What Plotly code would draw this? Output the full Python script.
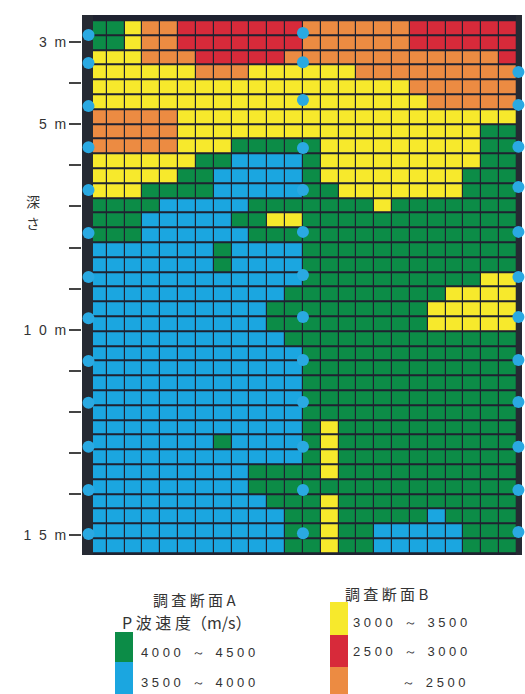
import plotly.graph_objects as go

# P-wave velocity classes (m/s) for survey sections A and B
class_codes = ["G", "B", "Y", "R", "O"]
class_colors = ["#0c8c47", "#1ba6e0", "#f7e92c", "#d72a3a", "#ec8b42"]

# Velocity class per cell: 36 depth rows x 24 columns (left 12 = section A, right 12 = section B)
grid_rows = [
    "GGYOORRRRRRR" + "OOOOOORRRRRR",
    "GGYOORRRRRRR" + "OOOOOORRRRRR",
    "YYYOOORRRRRO" + "OOOOOOOOOOOR",
    "YYYYYYOOOYYY" + "YYYOOOOOOOOO",
    "YYYYYYYYYYYY" + "YYYYYYOOOOOO",
    "YYYYYYYYYYYY" + "YYYYYYYOOOOO",
    "OOOOOYYYYYYY" + "YYYYYYYYYYYY",
    "OOOOOYYYYYYY" + "YYYYYYYYYYGG",
    "OOOOOYYYGGGG" + "GYYYYYYYYYGG",
    "YYYYYYGGBBBB" + "GYYYYYYYYYGG",
    "YYYYYGGBBBBB" + "GYYYYYYYYGGG",
    "YYYGGGGBBBBB" + "GGYYYYYYYGGG",
    "GGGGBBBBBGGG" + "GGGGYGGGGGGG",
    "GGGBBBBBGGYY" + "GGGGGGGGGGGG",
    "GGGBBBBBBGGG" + "GGGGGGGGGGGG",
    "BBBBBBBGBBBB" + "GGGGGGGGGGGG",
    "BBBBBBBGBBBB" + "GGGGGGGGGGGG",
    "BBBBBBBBBBBB" + "GGGGGGGGGGYY",
    "BBBBBBBBBBBG" + "GGGGGGGGYYYY",
    "BBBBBBBBBBGG" + "GGGGGGGYYYYY",
    "BBBBBBBBBBGG" + "GGGGGGGYYYYY",
    "BBBBBBBBBBBG" + "GGGGGGGGGGGG",
    "BBBBBBBBBBBB" + "GGGGGGGGGGGG",
    "BBBBBBBBBBBB" + "GGGGGGGGGGGG",
    "BBBBBBBBBBBB" + "GGGGGGGGGGGG",
    "BBBBBBBBBBBB" + "GGGGGGGGGGGG",
    "BBBBBBBBBBBB" + "GGGGGGGGGGGG",
    "BBBBBBBBBBBB" + "GYGGGGGGGGGG",
    "BBBBBBBGBBBB" + "GYGGGGGGGGGG",
    "BBBBBBBBBBBB" + "GYGGGGGGGGGG",
    "BBBBBBBBBGGG" + "GYGGGGGGGGGG",
    "BBBBBBBBBGGG" + "GGGGGGGGGGGG",
    "BBBBBBBBBBGG" + "GYGGGGGGGGGG",
    "BBBBBBBBBBBG" + "GYGGGGGBGGGG",
    "BBBBBBBBBBBG" + "GYGGBBBBBGGG",
    "BBBBBBBBBBBG" + "GYGGBBBBBGGG",
]

# Borehole measurement points (depth, m)
hole_left_depths = [2.83, 3.51, 4.56, 5.56, 6.60, 7.65, 8.72, 9.72, 10.76, 11.78, 12.85, 13.90, 14.97]
hole_mid_depths = [2.78, 3.49, 4.41, 5.58, 6.60, 7.62, 8.67, 9.69, 10.74, 11.76, 12.85, 13.90, 14.95]
hole_right_depths = [3.73, 4.53, 5.55, 6.53, 7.62, 8.72, 9.69, 10.74, 11.76, 12.85, 13.90, 14.92]

# Depth axis ticks
NB = "\u00a0"
depth_ticks = list(range(3, 16))
depth_labels = {3: "3" + NB * 2 + "m", 5: "5" + NB * 2 + "m",
                10: "1" + NB * 2 + "0" + NB * 2 + "m", 15: "1" + NB * 2 + "5" + NB * 2 + "m"}

# Legend texts
section_a_title = "調 査 断 面 A"
velocity_title = "P 波 速 度（m/s）"
section_a_labels = ["4 0 0 0   ～   4 5 0 0", "3 5 0 0   ～   4 0 0 0"]
section_b_title = "調 査 断 面 B"
section_b_labels = ["3 0 0 0   ～   3 5 0 0", "2 5 0 0   ～   3 0 0 0", "～   2 5 0 0"]

# ---- geometry -------------------------------------------------------------
W, H = 525, 694
PL, PR, PT, PB = 82, 522, 15, 555          # plot area in pixels
COL_PX = 17.83                              # column width in pixels
COL0_PX = 89                                # left edge of first column
PX_PER_M = 41.1
DEPTH_AT_42 = 3.0                           # 3 m tick sits at y=42 px
ROW_TOP_DEPTH = 2.4696
ROW_H = 0.3601

x_lo = -0.5 - (COL0_PX - PL) / COL_PX
x_hi = x_lo + (PR - PL) / COL_PX
d_top = DEPTH_AT_42 + (PT - 42) / PX_PER_M
d_bot = DEPTH_AT_42 + (PB - 42) / PX_PER_M

code_index = {c: i for i, c in enumerate(class_codes)}
z = [[code_index[c] for c in row] for row in grid_rows]
n_rows, n_cols = len(z), len(z[0])

n = len(class_colors)
scale = []
for i, col in enumerate(class_colors):
    scale.append([i / n, col])
    scale.append([(i + 1) / n, col])

fig = go.Figure()
fig.add_trace(go.Heatmap(
    z=z,
    x0=0, dx=1,
    y0=ROW_TOP_DEPTH + ROW_H / 2, dy=ROW_H,
    zmin=-0.5, zmax=n - 0.5,
    colorscale=scale,
    showscale=False,
    xgap=1.2, ygap=2,
    hoverinfo="skip",
))

dark = "#1f2230"
strip = "#262a33"
# borehole strips on both edges, drawn as filled traces so the dots sit on top
for sx0, sx1 in [(x_lo, -0.5 + 4 / COL_PX), (n_cols - 0.5 - 1 / COL_PX, x_hi)]:
    fig.add_trace(go.Scatter(
        x=[sx0, sx1, sx1, sx0, sx0], y=[d_top, d_top, d_bot, d_bot, d_top],
        mode="lines", fill="toself", fillcolor=strip, line=dict(width=0, color=strip),
        hoverinfo="skip", showlegend=False,
    ))

dot_color = "#2aa9e2"
for xpos, depths in [
    (x_lo + 6.5 / COL_PX, hole_left_depths),
    (n_cols / 2 - 0.5, hole_mid_depths),
    (n_cols - 0.5 + 1.5 / COL_PX, hole_right_depths),
]:
    fig.add_trace(go.Scatter(
        x=[xpos] * len(depths), y=depths, mode="markers",
        marker=dict(size=12, color=dot_color, line_width=0),
        hoverinfo="skip", showlegend=False, cliponaxis=False,
    ))

# ---- legend (drawn in pixel space converted to paper coords) --------------
def px(xp):
    return (xp - PL) / (PR - PL)

def py(yp):
    return (PB - yp) / (PB - PT)

swatches = [
    (115, 133, 632, 662, class_colors[0]),
    (115, 133, 662, 700, class_colors[1]),
    (330, 348, 602, 635, class_colors[2]),
    (330, 348, 635, 667, class_colors[3]),
    (330, 348, 667, 700, class_colors[4]),
]
for x0, x1, y0, y1, c in swatches:
    fig.add_shape(type="rect", xref="paper", yref="paper",
                  x0=px(x0), x1=px(x1), y0=py(y1), y1=py(y0),
                  fillcolor=c, line_width=0)

txt_font = dict(family="Noto Sans CJK JP", size=15, color="#333333")
num_font = dict(family="Liberation Sans", size=13, color="#333333")

def note(text, xp, yp, xanchor="left", font=txt_font):
    fig.add_annotation(text=text, xref="paper", yref="paper",
                       x=px(xp), y=py(yp), xanchor=xanchor, yanchor="middle",
                       showarrow=False, font=font)

note(section_a_title, 194, 599, "center")
note(velocity_title, 186, 622, "center", dict(txt_font, size=16))
note(section_a_labels[0], 139, 652, "left", num_font)
note(section_a_labels[1], 139, 682, "left", num_font)
note(section_b_title, 386, 593, "center")
note(section_b_labels[0], 351, 622, "left", num_font)
note(section_b_labels[1], 351, 651, "left", num_font)
note(section_b_labels[2], 468, 682, "right", num_font)

# depth axis title, written vertically one character per line
for ch, yp in [("深", 201), ("さ", 223)]:
    fig.add_annotation(text=ch, xref="paper", yref="paper",
                       x=px(33), y=py(yp), xanchor="center", yanchor="middle",
                       showarrow=False, font=dict(family="Noto Sans CJK JP", size=14, color="#333333"))

fig.update_layout(
    width=W, height=H,
    margin=dict(l=PL, r=W - PR, t=PT, b=H - PB),
    paper_bgcolor="white",
    plot_bgcolor=dark,
    showlegend=False,
    xaxis=dict(range=[x_lo, x_hi], showgrid=False, zeroline=False,
               showticklabels=False, ticks="", fixedrange=True),
    yaxis=dict(range=[d_bot, d_top], showgrid=False, zeroline=False,
               tickvals=depth_ticks,
               ticktext=[depth_labels.get(t, "") for t in depth_ticks],
               ticks="outside", ticklen=12, tickwidth=1.5, tickcolor="#444444",
               tickfont=dict(family="Liberation Sans", size=14, color="#333333"),
               fixedrange=True),
)

fig.write_html("out.html")
